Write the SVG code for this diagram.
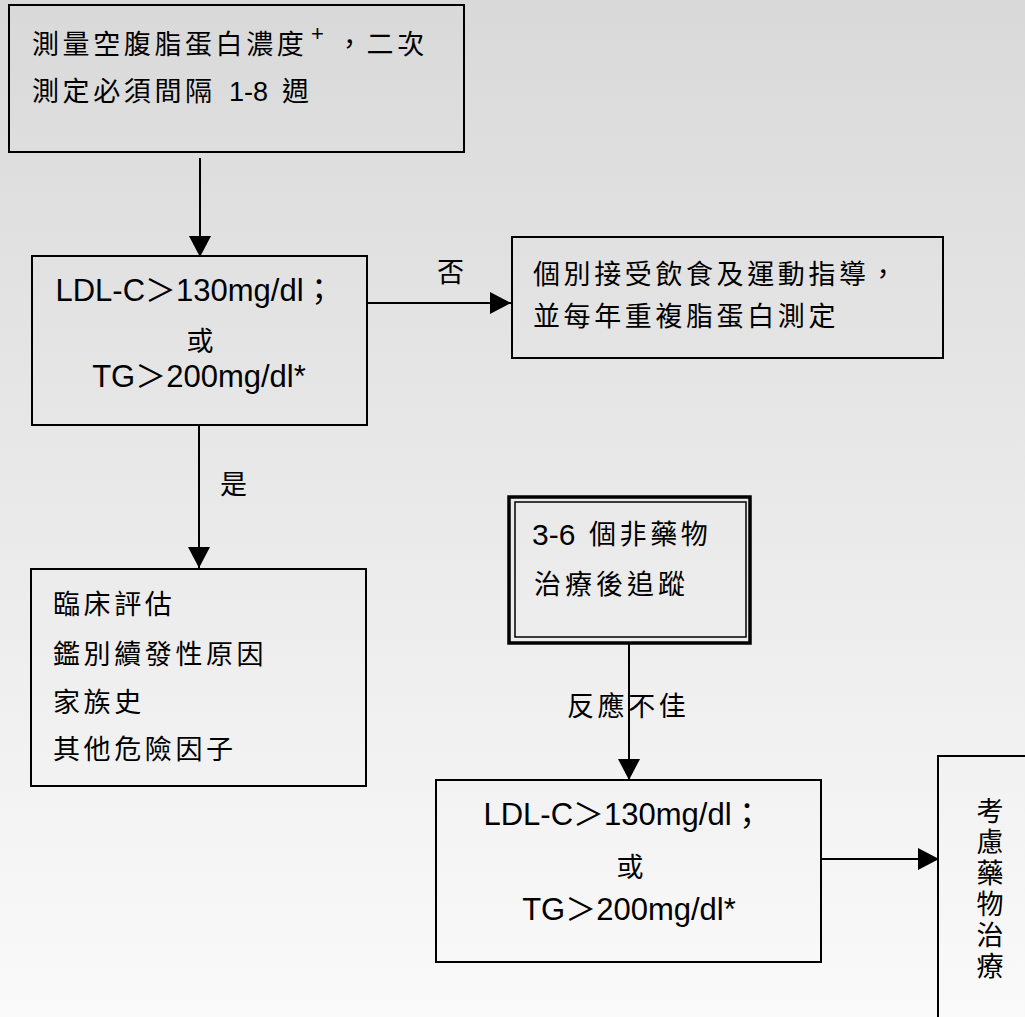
<svg xmlns="http://www.w3.org/2000/svg" width="1025" height="1017" viewBox="0 0 1025 1017">
  <defs>
    <linearGradient id="bg" x1="0" y1="0" x2="0" y2="1">
      <stop offset="0" stop-color="#d9d9d9"/>
      <stop offset="1" stop-color="#fafafa"/>
    </linearGradient>
    <marker id="arrow" markerUnits="userSpaceOnUse" markerWidth="22" markerHeight="22" refX="21" refY="11" orient="auto">
      <path d="M0,0 L21,11 L0,22 z" fill="#000"/>
    </marker>
    <style>
      .box { fill: none; stroke: #000; stroke-width: 2; }
      .conn { fill: none; stroke: #000; stroke-width: 2; marker-end: url(#arrow); }
      .cjk { font-family: "Noto Sans CJK TC", "Noto Sans CJK SC", sans-serif; font-size: 27px; fill: #000; letter-spacing: 3.6px; }
      .lat { font-family: "Liberation Sans", "Noto Sans CJK TC", sans-serif; font-size: 31px; fill: #000; }
    </style>
  </defs>
  <rect x="0" y="0" width="1025" height="1017" fill="url(#bg)"/>

  <g id="connectors">
    <line class="conn" x1="200" y1="158" x2="200" y2="257"/>
    <line class="conn" x1="367" y1="303" x2="511" y2="303"/>
    <line class="conn" x1="199" y1="425" x2="199" y2="568"/>
    <line class="conn" x1="629" y1="643" x2="629" y2="780"/>
    <line class="conn" x1="821" y1="859" x2="939" y2="859"/>
    <text class="cjk" x="437" y="282">否</text>
    <text class="cjk" x="220" y="494">是</text>
    <text class="cjk" x="567" y="716">反應不佳</text>
  </g>

  <g id="node-measure">
    <rect class="box" x="9" y="5" width="455" height="147"/>
    <text class="cjk" x="32" y="54">測量空腹脂蛋白濃度</text>
    <text x="311" y="41" font-family="Liberation Sans, sans-serif" font-size="22" fill="#000">+</text>
    <text class="cjk" x="336" y="54">，二次</text>
    <text class="cjk" x="32" y="101">測定必須間隔</text>
    <text x="229" y="101" font-family="Liberation Sans, sans-serif" font-size="27" fill="#000">1-8</text>
    <text class="cjk" x="282" y="101">週</text>
  </g>

  <g id="node-check1">
    <rect class="box" x="32" y="256" width="335" height="169"/>
    <text class="lat" x="195" y="301" text-anchor="middle">LDL-C＞130mg/dl；</text>
    <text class="cjk" x="200" y="351" text-anchor="middle" style="letter-spacing:0">或</text>
    <text class="lat" x="199" y="387" text-anchor="middle">TG＞200mg/dl*</text>
  </g>

  <g id="node-diet">
    <rect class="box" x="512" y="237" width="431" height="121"/>
    <text class="cjk" x="533" y="284">個別接受飲食及運動指導，</text>
    <text class="cjk" x="533" y="326">並每年重複脂蛋白測定</text>
  </g>

  <g id="node-clinical">
    <rect class="box" x="31" y="569" width="335" height="217"/>
    <text class="cjk" x="53" y="614">臨床評估</text>
    <text class="cjk" x="53" y="664">鑑別續發性原因</text>
    <text class="cjk" x="53" y="712">家族史</text>
    <text class="cjk" x="53" y="759">其他危險因子</text>
  </g>

  <g id="node-followup">
    <rect x="509" y="497" width="241" height="146" fill="none" stroke="#000" stroke-width="3.5"/>
    <rect x="515" y="502" width="231" height="135" fill="none" stroke="#000" stroke-width="1.5"/>
    <text x="532" y="545" font-family="Liberation Sans, sans-serif" font-size="30" fill="#000">3-6</text>
    <text class="cjk" x="589" y="544">個非藥物</text>
    <text class="cjk" x="534" y="594" style="letter-spacing:4px">治療後追蹤</text>
  </g>

  <g id="node-check2">
    <rect class="box" x="436" y="780" width="385" height="182"/>
    <text class="lat" x="623" y="825" text-anchor="middle">LDL-C＞130mg/dl；</text>
    <text class="cjk" x="630" y="877" text-anchor="middle" style="letter-spacing:0">或</text>
    <text class="lat" x="629" y="920" text-anchor="middle">TG＞200mg/dl*</text>
  </g>

  <g id="node-drug">
    <rect class="box" x="938" y="756" width="200" height="400"/>
    <text class="cjk" x="990" y="797" style="writing-mode: vertical-rl; letter-spacing: 4px">考慮藥物治療</text>
  </g>
</svg>
